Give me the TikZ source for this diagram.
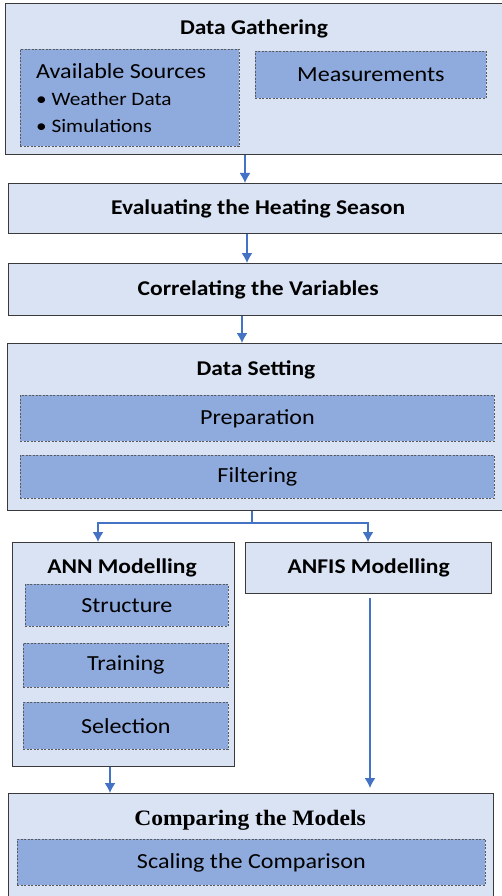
\documentclass[tikz,border=0pt]{standalone}
\usepackage{fontspec}
\setmainfont{Carlito}[FakeStretch=1.12]
\newfontfamily\timesfont{Liberation Serif}[FakeStretch=1.07]
\usetikzlibrary{arrows.meta}
\definecolor{outerfill}{HTML}{DAE3F3}
\definecolor{innerfill}{HTML}{8FAADC}
\definecolor{boxline}{HTML}{3A3A3A}
\definecolor{dashline}{HTML}{5A5A5A}
\definecolor{arrowblue}{HTML}{4472C4}
\tikzset{
  outerbox/.style={draw=boxline, line width=1.4pt, fill=outerfill, inner sep=0pt, anchor=north west},
  innerbox/.style={draw=dashline, line width=0.8pt, dash pattern=on 2pt off 1.5pt, fill=innerfill,
    inner sep=0pt, anchor=north west, font=\fontsize{21.5}{26}\selectfont},
  headtext/.style={font=\bfseries\fontsize{21}{26}\selectfont},
  listtext/.style={inner sep=0pt, anchor=base west},
  flow/.style={->, draw=arrowblue, line width=1.4pt}
}
\begin{document}
\begin{tikzpicture}[x=1pt,y=-1pt,>={Latex[length=10pt,width=11pt]}]
\useasboundingbox (0,0) rectangle (502,896);
% data gathering
\node[outerbox, minimum width=502pt, minimum height=151pt] (gather) at (5,3) {};
\node[headtext, anchor=base] (gathert) at (254,35) {Data Gathering};
\node[innerbox, minimum width=219pt, minimum height=97pt] (sources) at (20,49) {};
\node[listtext, font=\fontsize{21.5}{26}\selectfont] (srct) at (36,79) {Available Sources};
\node[listtext, font=\fontsize{19}{22}\selectfont] (srca) at (36,106) {• Weather Data};
\node[listtext, font=\fontsize{19}{22}\selectfont] (srcb) at (36,133) {• Simulations};
\node[innerbox, minimum width=231pt, minimum height=47pt] (meas) at (255,51) {Measurements};
% single steps
\node[outerbox, headtext, minimum width=499pt, minimum height=50pt] (season) at (8,183) {Evaluating the Heating Season};
\node[outerbox, headtext, minimum width=499pt, minimum height=52pt] (correl) at (8,263) {Correlating the Variables};
% data setting
\node[outerbox, minimum width=499pt, minimum height=167pt] (setting) at (7,343) {};
\node[headtext, anchor=base] (settingt) at (256,375) {Data Setting};
\node[innerbox, minimum width=474pt, minimum height=46pt] (prep) at (20,395) {Preparation};
\node[innerbox, minimum width=474pt, minimum height=43pt] (filter) at (20,455) {Filtering};
% models
\node[outerbox, minimum width=222pt, minimum height=224pt] (ann) at (12,542) {};
\node[headtext, anchor=base] (annt) at (122,573) {ANN Modelling};
\node[innerbox, minimum width=203pt, minimum height=42pt] (struct) at (25,584) {Structure};
\node[innerbox, minimum width=205pt, minimum height=44pt] (train) at (23,643) {Training};
\node[innerbox, minimum width=205pt, minimum height=47pt] (select) at (23,702) {Selection};
\node[outerbox, headtext, minimum width=246pt, minimum height=51pt] (anfis) at (245,542) {ANFIS Modelling};
% comparison
\node[outerbox, minimum width=485pt, minimum height=110pt] (compare) at (8,793) {};
\node[font=\timesfont\bfseries\fontsize{22}{26}\selectfont, anchor=base] (comparet) at (250,825) {Comparing the Models};
\node[innerbox, minimum width=468pt, minimum height=46pt] (scaling) at (17,839) {Scaling the Comparison};
% arrows
\coordinate (split) at (252,523);
\draw[flow] (245,0 |- gather.south) -- (245,0 |- season.north);
\draw[flow] (247,0 |- season.south) -- (247,0 |- correl.north);
\draw[flow] (242,0 |- correl.south) -- (242,0 |- setting.north);
\draw[draw=arrowblue, line width=1.4pt] (split |- setting.south) -- (split);
\draw[flow] (split) -| (98,0 |- ann.north);
\draw[flow] (split) -| (368,0 |- anfis.north);
\draw[flow] (110,0 |- ann.south) -- (110,0 |- compare.north);
\draw[flow, shorten <=4pt, shorten >=5pt] (370,0 |- anfis.south) -- (370,0 |- compare.north);
\end{tikzpicture}
\end{document}
